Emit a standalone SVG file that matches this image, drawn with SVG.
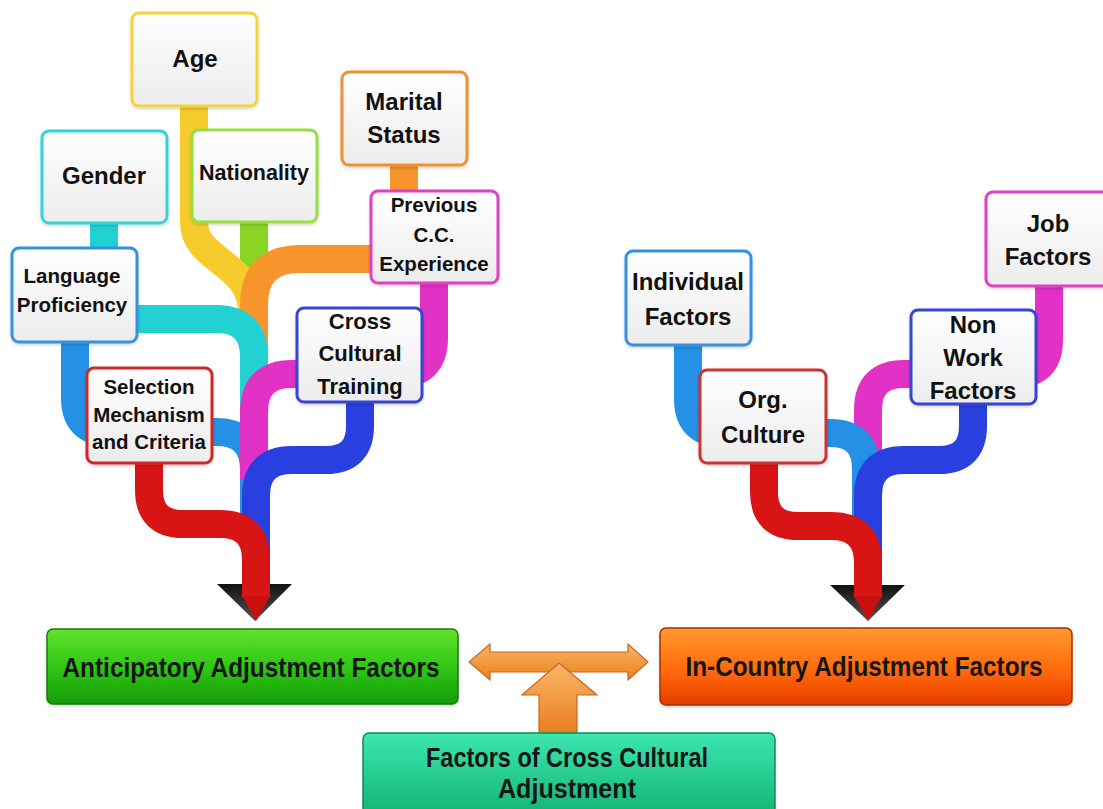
<svg xmlns="http://www.w3.org/2000/svg" width="1103" height="809" viewBox="0 0 1103 809">
  <defs>
    <style>
      .lbl { font-family: "Liberation Sans", Arial, sans-serif; font-weight: bold; fill: #111; text-anchor: middle; }
      .big { font-size: 24px; }
      .mid { font-size: 22px; }
      .sm { font-size: 20.5px; }
      .box { fill: url(#boxFill); stroke-width: 3; filter: url(#soft); }
      .rib { fill: none; stroke-width: 28; stroke-linecap: butt; stroke-linejoin: round; }
      .foot { font-family: "Liberation Sans", Arial, sans-serif; font-weight: bold; font-size: 27px; fill: #151515; text-anchor: middle; }
    </style>
    <linearGradient id="boxFill" x1="0" y1="0" x2="0" y2="1">
      <stop offset="0" stop-color="#ffffff"/>
      <stop offset="1" stop-color="#ececec"/>
    </linearGradient>
    <linearGradient id="headFill" x1="0" y1="0" x2="0" y2="1">
      <stop offset="0" stop-color="#111"/>
      <stop offset="1" stop-color="#555"/>
    </linearGradient>
    <linearGradient id="greenFill" x1="0" y1="0" x2="0" y2="1">
      <stop offset="0" stop-color="#62e22e"/>
      <stop offset="0.55" stop-color="#2cc414"/>
      <stop offset="1" stop-color="#169a0a"/>
    </linearGradient>
    <linearGradient id="orangeFill" x1="0" y1="0" x2="0" y2="1">
      <stop offset="0" stop-color="#ff9a2e"/>
      <stop offset="0.55" stop-color="#ff6a0a"/>
      <stop offset="1" stop-color="#e63c00"/>
    </linearGradient>
    <linearGradient id="tealFill" x1="0" y1="0" x2="0" y2="1">
      <stop offset="0" stop-color="#3ce6b0"/>
      <stop offset="1" stop-color="#12b272"/>
    </linearGradient>
    <linearGradient id="arrowFill" x1="0" y1="0" x2="0" y2="1">
      <stop offset="0" stop-color="#fbb468"/>
      <stop offset="1" stop-color="#e8801e"/>
    </linearGradient>
    <filter id="soft" x="-10%" y="-10%" width="120%" height="125%">
      <feDropShadow dx="0" dy="1.5" stdDeviation="1.5" flood-color="#000" flood-opacity="0.18"/>
    </filter>
  </defs>

  <rect width="1103" height="809" fill="#ffffff"/>

  <!-- ribbons joining each factor to its stem -->
  <g id="connectors">
    <!-- left tree -->
    <path class="rib" stroke="#8ad424" d="M254,215 V268"/>
    <path class="rib" stroke="#f6cc2c" d="M194,100 V222 C194,262 252,262 252,312 V330"/>
    <path class="rib" stroke="#f7952c" d="M404,160 V259 H300 Q254,259 254,305 V380"/>
    <path class="rib" stroke="#22d2d2" d="M104,218 V319 H216 Q254,319 254,357 V470"/>
    <path class="rib" stroke="#2491e6" d="M75,338 V398 Q75,432 109,432 H216 Q254,432 254,470 V540"/>
    <path class="rib" stroke="#e232c6" d="M434,280 V338 Q434,374 398,374 H292 Q254,374 254,412 V480"/>
    <polygon points="217,584 292,584 255,621" fill="url(#headFill)"/>
    <path class="rib" stroke="#2a3fe0" d="M360,400 V426 Q360,460 326,460 H292 Q256,460 256,496 V598"/>
    <path class="rib" stroke="#d81414" d="M149,460 V490 Q149,524 183,524 H220 Q256,524 256,560 V597"/>
    <polygon points="242,596 270,596 256,621" fill="#c81010"/>

    <!-- right tree -->
    <path class="rib" stroke="#e232c6" d="M1049,284 V340 Q1049,374 1015,374 H904 Q868,374 868,410 V480"/>
    <path class="rib" stroke="#2491e6" d="M688,343 V399 Q688,433 722,433 H830 Q866,433 866,469 V540"/>
    <polygon points="830,585 905,585 868,621" fill="url(#headFill)"/>
    <path class="rib" stroke="#2a3fe0" d="M973,402 V426 Q973,460 939,460 H904 Q868,460 868,496 V598"/>
    <path class="rib" stroke="#d81414" d="M764,461 V492 Q764,526 798,526 H831 Q868,526 868,563 V597"/>
    <polygon points="854,596 882,596 868,621" fill="#c81010"/>

    <!-- link between the two adjustment stages, fed from below -->
    <polygon points="469,662 490,644 490,652 628,652 628,644 648,662 628,680 628,672 490,672 490,680"
             fill="url(#arrowFill)" stroke="#c8681a" stroke-width="1.2"/>
    <polygon points="559,663 597,695 577,695 577,733 539,733 539,695 522,695"
             fill="url(#arrowFill)" stroke="#c8681a" stroke-width="1.2"/>
  </g>

  <!-- anticipatory factors -->
  <g id="age">
    <rect class="box" x="132" y="13" width="125" height="93" rx="7" stroke="#f5d43a"/>
    <text class="lbl big" x="195" y="67">Age</text>
  </g>
  <g id="gender">
    <rect class="box" x="42" y="131" width="125" height="92" rx="7" stroke="#33d4d8"/>
    <text class="lbl big" x="104" y="184">Gender</text>
  </g>
  <g id="nationality">
    <rect class="box" x="192" y="130" width="125" height="92" rx="7" stroke="#96e03e"/>
    <text class="lbl sm" x="254" y="180" style="font-size:21.5px">Nationality</text>
  </g>
  <g id="marital-status">
    <rect class="box" x="342" y="72" width="125" height="93" rx="7" stroke="#f09232"/>
    <text class="lbl big" x="404" y="110">Marital</text>
    <text class="lbl big" x="404" y="143">Status</text>
  </g>
  <g id="previous-experience">
    <rect class="box" x="371" y="191" width="127" height="92" rx="7" stroke="#e040c2"/>
    <text class="lbl sm" x="434" y="212">Previous</text>
    <text class="lbl sm" x="434" y="242">C.C.</text>
    <text class="lbl sm" x="434" y="271">Experience</text>
  </g>
  <g id="language-proficiency">
    <rect class="box" x="12" y="248" width="125" height="94" rx="7" stroke="#3492e2"/>
    <text class="lbl sm" x="72" y="283">Language</text>
    <text class="lbl sm" x="72" y="312">Proficiency</text>
  </g>
  <g id="cross-cultural-training">
    <rect class="box" x="297" y="308" width="125" height="94" rx="7" stroke="#3444d4"/>
    <text class="lbl mid" x="360" y="329">Cross</text>
    <text class="lbl mid" x="360" y="361">Cultural</text>
    <text class="lbl mid" x="360" y="394">Training</text>
  </g>
  <g id="selection-mechanism">
    <rect class="box" x="87" y="368" width="125" height="95" rx="7" stroke="#d02828"/>
    <text class="lbl sm" x="149" y="394">Selection</text>
    <text class="lbl sm" x="149" y="422">Mechanism</text>
    <text class="lbl sm" x="149" y="449">and Criteria</text>
  </g>

  <!-- in-country factors -->
  <g id="individual-factors">
    <rect class="box" x="626" y="251" width="125" height="94" rx="7" stroke="#3492e2"/>
    <text class="lbl big" x="688" y="290">Individual</text>
    <text class="lbl big" x="688" y="325">Factors</text>
  </g>
  <g id="org-culture">
    <rect class="box" x="700" y="370" width="126" height="93" rx="7" stroke="#d03030"/>
    <text class="lbl big" x="763" y="408">Org.</text>
    <text class="lbl big" x="763" y="443">Culture</text>
  </g>
  <g id="non-work-factors">
    <rect class="box" x="911" y="310" width="125" height="94" rx="7" stroke="#3444d4"/>
    <text class="lbl big" x="973" y="333">Non</text>
    <text class="lbl big" x="973" y="366">Work</text>
    <text class="lbl big" x="973" y="399">Factors</text>
  </g>
  <g id="job-factors">
    <rect class="box" x="986" y="192" width="124" height="94" rx="7" stroke="#e040c2"/>
    <text class="lbl big" x="1048" y="232">Job</text>
    <text class="lbl big" x="1048" y="265">Factors</text>
  </g>

  <!-- adjustment stages -->
  <g id="anticipatory-adjustment">
    <rect x="47" y="629" width="411" height="75" rx="6" fill="url(#greenFill)" stroke="#1b7a10" stroke-width="1.5" filter="url(#soft)"/>
    <text class="foot" x="251" y="677" textLength="377" lengthAdjust="spacingAndGlyphs">Anticipatory Adjustment Factors</text>
  </g>
  <g id="in-country-adjustment">
    <rect x="660" y="628" width="412" height="77" rx="6" fill="url(#orangeFill)" stroke="#a83000" stroke-width="1.5" filter="url(#soft)"/>
    <text class="foot" x="864" y="676" textLength="357" lengthAdjust="spacingAndGlyphs">In-Country Adjustment Factors</text>
  </g>
  <g id="cross-cultural-adjustment">
    <rect x="363" y="733" width="412" height="86" rx="6" fill="url(#tealFill)" stroke="#0e8c58" stroke-width="1.5"/>
    <text class="foot" x="567" y="767" textLength="282" lengthAdjust="spacingAndGlyphs">Factors of Cross Cultural</text>
    <text class="foot" x="567" y="798" textLength="138" lengthAdjust="spacingAndGlyphs">Adjustment</text>
  </g>
</svg>
